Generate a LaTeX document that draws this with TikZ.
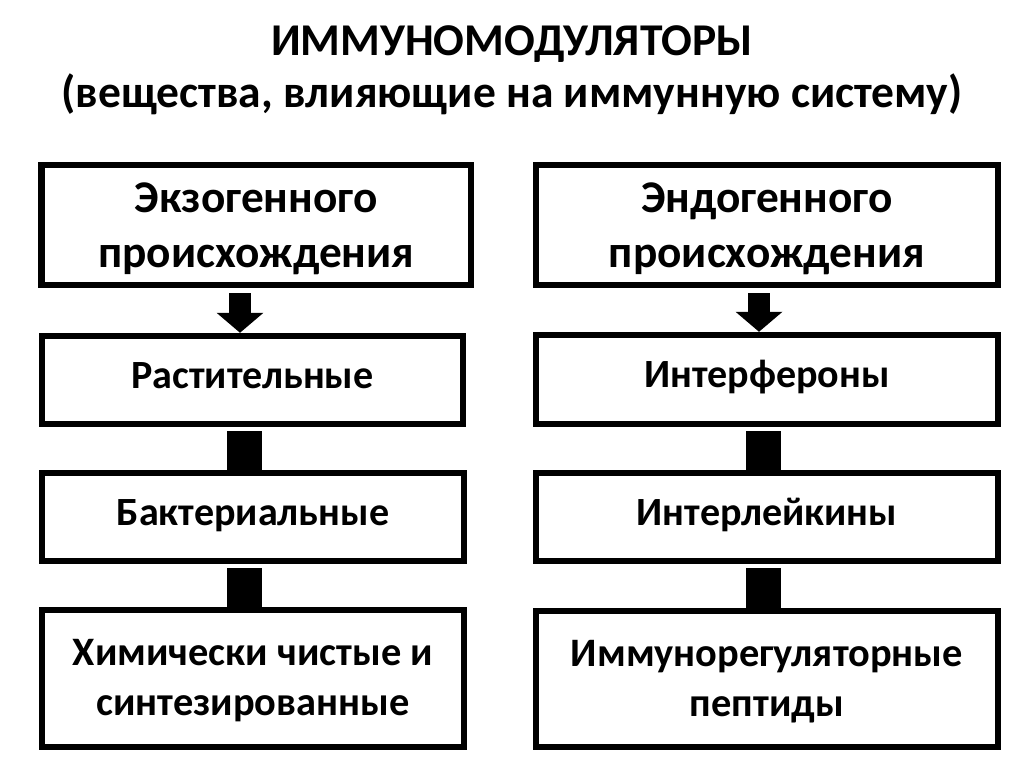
\documentclass[tikz,border=0pt]{standalone}
\usepackage{fontspec}
\setmainfont{Carlito}
\usetikzlibrary{arrows.meta, positioning}
\tikzset{
  box/.style={draw, line width=0.13cm, inner sep=0pt},
  bigtext/.style={font=\fontsize{25.8}{31.2}\selectfont\bfseries,
    align=center, text depth=0pt},
  midtext/.style={font=\fontsize{22.8}{28}\selectfont\bfseries,
    text height=1em, text depth=0.06em},
  lowtext/.style={font=\fontsize{23}{28.4}\selectfont\bfseries,
    align=center, text depth=0.1em},
  arrowdown/.style={line width=0.44cm, shorten <=0.1cm,
    -{Triangle[width=0.94cm, length=0.4cm, line width=0pt]}},
  bar/.style={line width=0.7cm, shorten <=0.08cm}
}
\begin{document}
\begin{tikzpicture}[x=0.02cm, y=-0.02cm]
  \useasboundingbox (0,0) rectangle (1024,767);

  % Title
  \node[font=\fontsize{25.9}{29.5}\selectfont\bfseries, align=center] (title) at (512,70)
    {ИММУНОМОДУЛЯТОРЫ\\(вещества, влияющие на иммунную систему)};

  % Left column
  \node[box, bigtext, minimum width=8.59cm, minimum height=2.4cm] (ex) at (256.25,225)
    {Экзогенного\\происхождения};
  \node[box, midtext, minimum width=8.42cm, minimum height=1.76cm] (plant) at (252.5,380)
    {Растительные};
  \node[box, midtext, minimum width=8.44cm, minimum height=1.76cm] (bact) at (253,517)
    {Бактериальные};
  \node[box, lowtext, minimum width=8.44cm, minimum height=2.74cm] (chem) at (253,678.5)
    {Химически чистые и\\синтезированные};

  % Right column
  \node[box, bigtext, minimum width=9.24cm, minimum height=2.4cm] (en) at (767,225)
    {Эндогенного\\происхождения};
  \node[box, midtext, minimum width=9.24cm, minimum height=1.78cm] (ifn) at (767,379.5)
    {Интерфероны};
  \node[box, midtext, minimum width=9.24cm, minimum height=1.76cm] (il) at (767,517)
    {Интерлейкины};
  \node[box, lowtext, minimum width=9.24cm, minimum height=2.72cm] (pep) at (767,679)
    {Иммунорегуляторные\\пептиды};

  % Connectors
  \coordinate (larr) at (240,0);
  \coordinate (lbar) at (244.5,0);
  \coordinate (rarr) at (759,0);
  \coordinate (rbar) at (763.5,0);
  \draw[arrowdown] (larr |- ex.south) -- (larr |- plant.north);
  \draw[bar] (lbar |- plant.south) -- (lbar |- bact.north);
  \draw[bar] (lbar |- bact.south) -- (lbar |- chem.north);
  \draw[arrowdown] (rarr |- en.south) -- (rarr |- ifn.north);
  \draw[bar] (rbar |- ifn.south) -- (rbar |- il.north);
  \draw[bar] (rbar |- il.south) -- (rbar |- pep.north);
\end{tikzpicture}
\end{document}
